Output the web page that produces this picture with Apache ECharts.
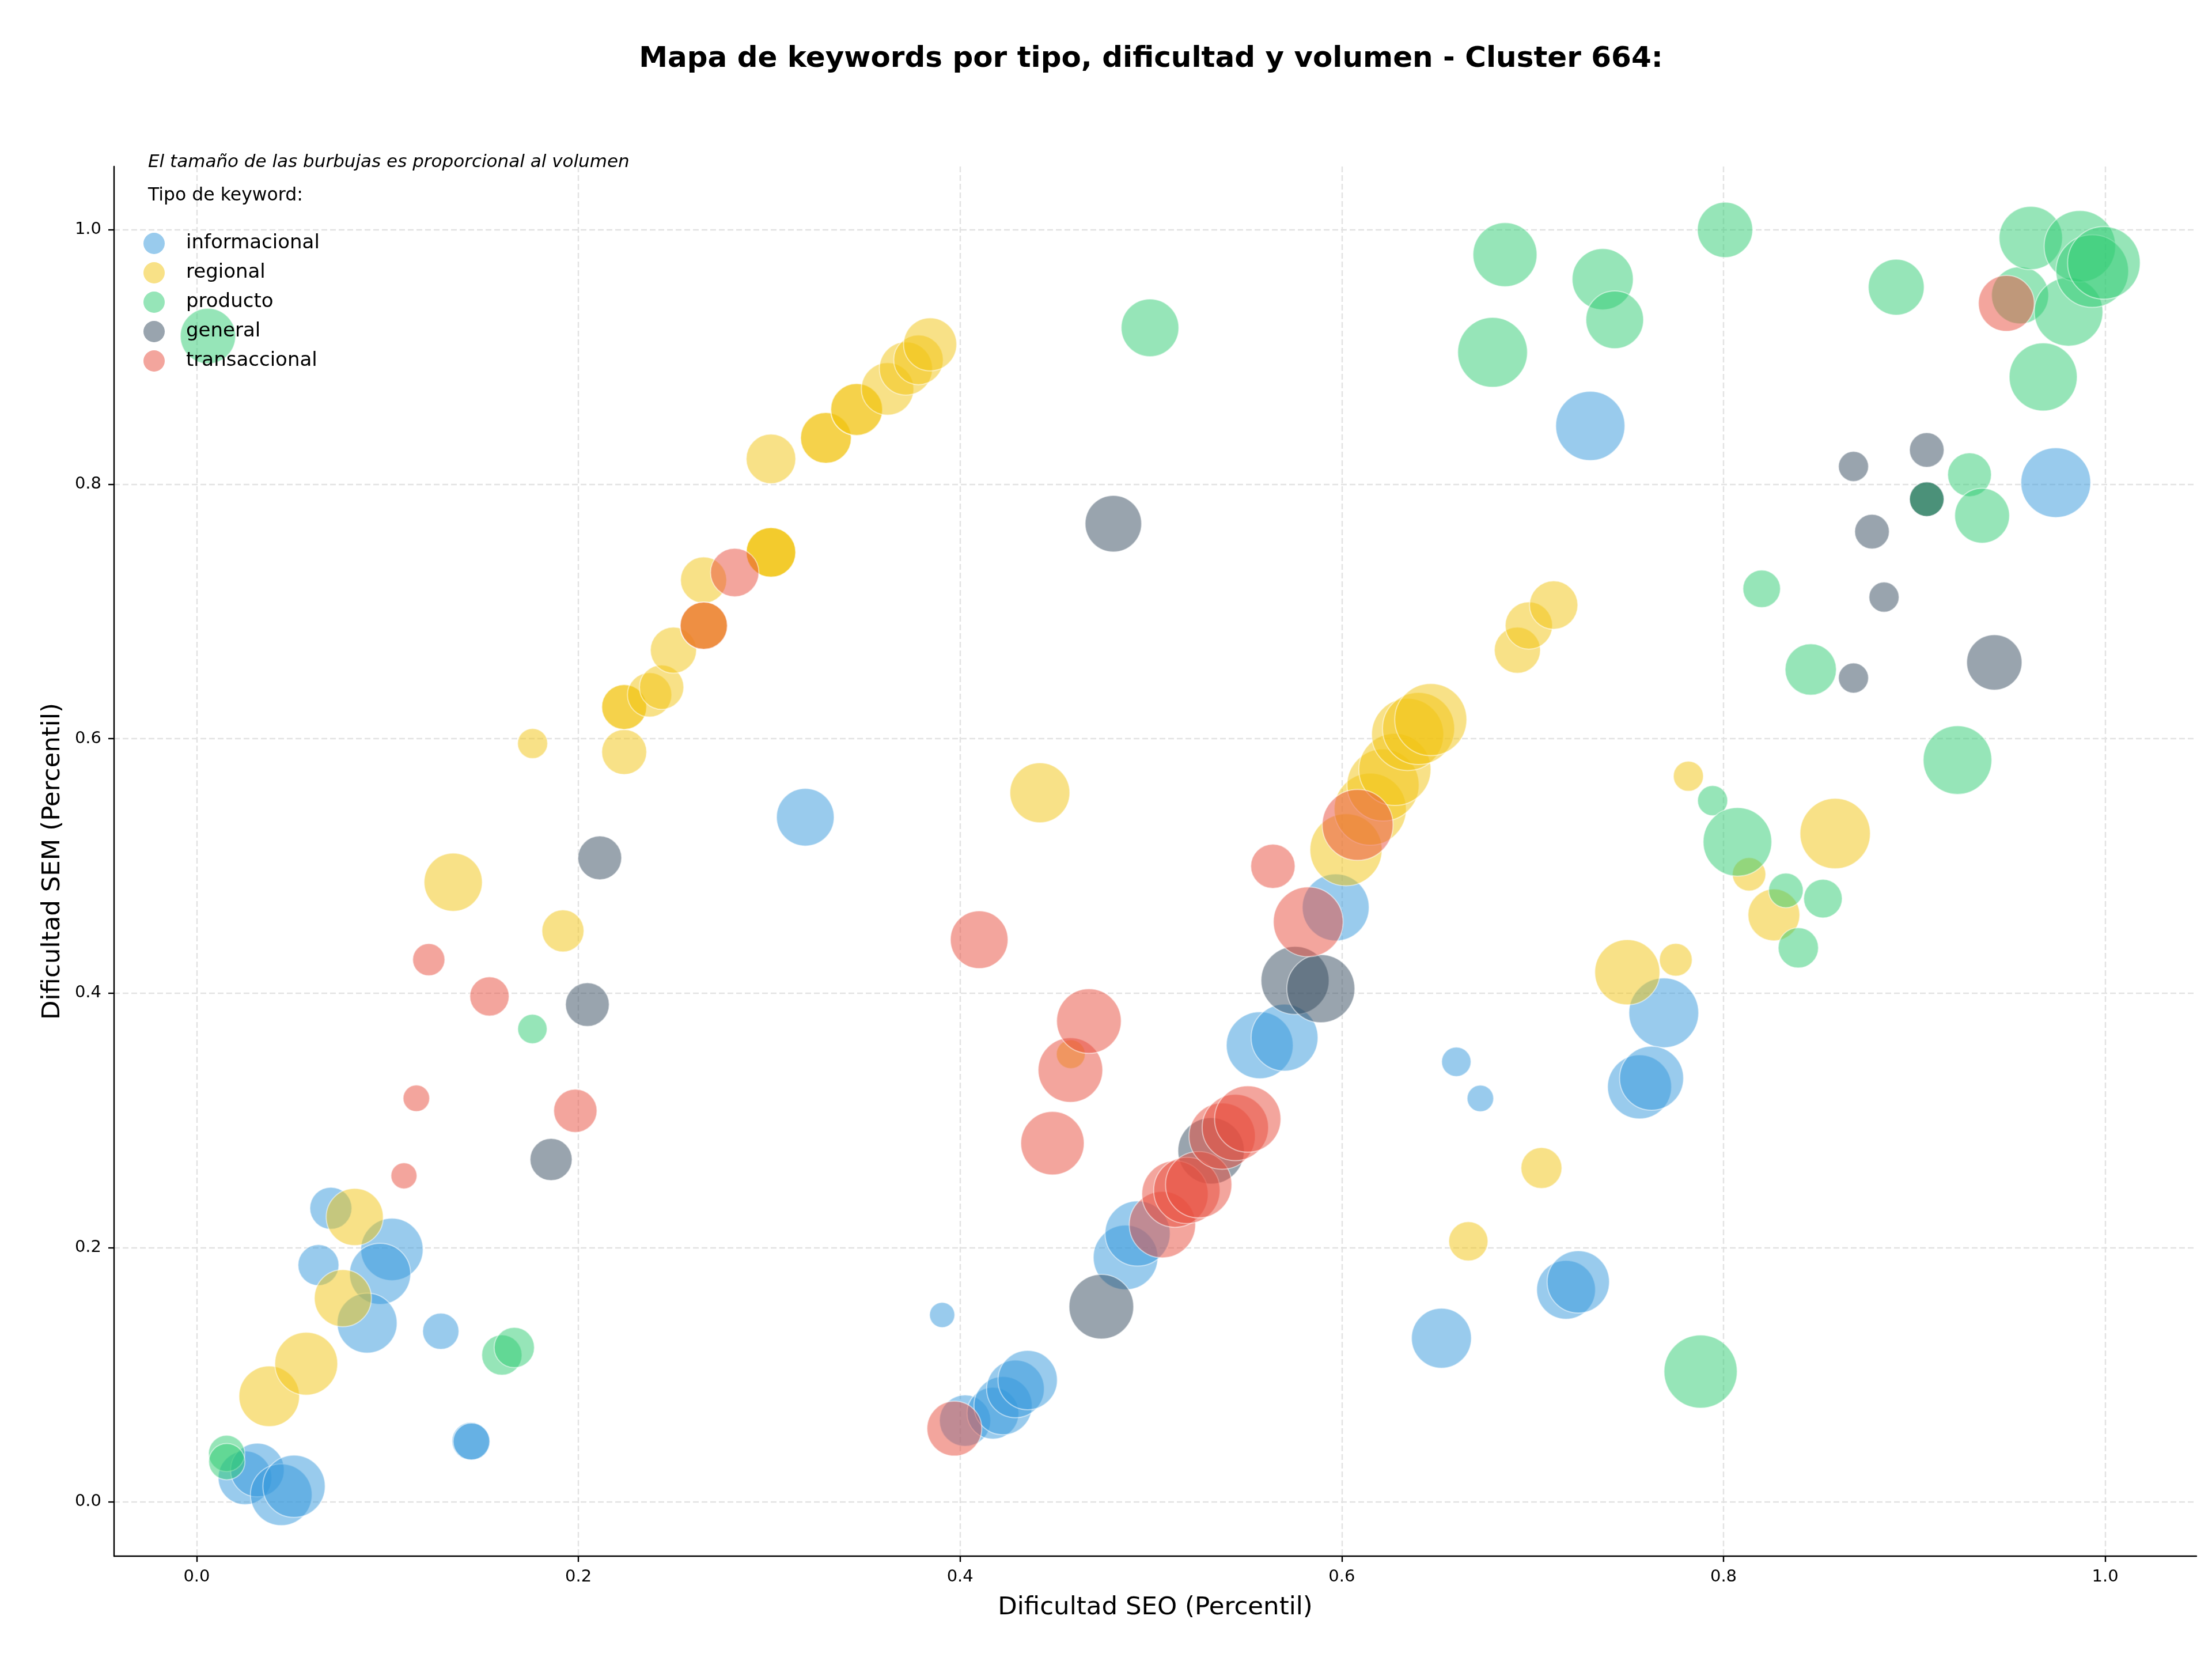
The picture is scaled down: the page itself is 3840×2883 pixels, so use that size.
<!DOCTYPE html>
<html>
<head>
<meta charset="utf-8">
<script src="https://cdn.jsdelivr.net/npm/echarts@6/dist/echarts.min.js"></script>
<style>
  html, body { margin: 0; padding: 0; background: #fff; }
  #chart { width: 3840px; height: 2883px; }
</style>
</head>
<body>
<div id="chart"></div>
<script>
// [dificultad SEO, dificultad SEM, volumen]
var informacional = [
  [0.0253, 0.019, 2160], [0.0318, 0.0251, 2160], [0.0443, 0.0057, 2860], [0.051, 0.0123, 2920],
  [0.0703, 0.2309, 1330], [0.1023, 0.1985, 2920], [0.0638, 0.1862, 1260], [0.0961, 0.1793, 2810],
  [0.0893, 0.1406, 2700], [0.1279, 0.1342, 990], [0.1436, 0.0478, 1060], [0.144, 0.0475, 1020],
  [0.3189, 0.5383, 2500], [0.3906, 0.147, 480], [0.4026, 0.0639, 1980], [0.4172, 0.0698, 2020],
  [0.4225, 0.0757, 2550], [0.429, 0.0889, 2500], [0.4354, 0.0958, 2650], [0.4867, 0.1922, 3140],
  [0.493, 0.211, 3190], [0.557, 0.359, 3360], [0.570, 0.365, 3360], [0.5968, 0.4674, 3360],
  [0.6522, 0.1287, 2700], [0.660, 0.346, 650], [0.6726, 0.3172, 530], [0.7175, 0.1668, 2600],
  [0.7239, 0.173, 2920], [0.7302, 0.8459, 3600], [0.7687, 0.3845, 3660], [0.756, 0.3263, 3080],
  [0.7623, 0.3331, 3080], [0.9741, 0.8013, 3660]
];
var regional = [
  [0.038, 0.0831, 2760], [0.0574, 0.1087, 2970], [0.0766, 0.1602, 2450], [0.0828, 0.224, 2450],
  [0.1344, 0.4872, 2550], [0.1919, 0.4489, 1330], [0.176, 0.5962, 680], [0.224, 0.5895, 1520],
  [0.224, 0.6249, 1520], [0.224, 0.6249, 1520], [0.2373, 0.6345, 1480], [0.2436, 0.6405, 1480],
  [0.2498, 0.6696, 1600], [0.2656, 0.7247, 1600], [0.2657, 0.6888, 1680], [0.2657, 0.6888, 1680],
  [0.3009, 0.820, 1850], [0.3009, 0.7465, 1850], [0.3009, 0.7465, 1850], [0.3009, 0.7465, 1850],
  [0.3297, 0.8365, 1940], [0.3297, 0.8365, 1940], [0.3458, 0.8588, 2020], [0.3458, 0.8588, 2020],
  [0.362, 0.875, 2070], [0.3716, 0.891, 2120], [0.3782, 0.8978, 1850], [0.3843, 0.910, 2120],
  [0.4418, 0.5575, 2700], [0.458, 0.352, 625], [0.6022, 0.5127, 3910], [0.6149, 0.5446, 3910],
  [0.6216, 0.5636, 3910], [0.6278, 0.5758, 3910], [0.6345, 0.6033, 3910], [0.6402, 0.608, 3910],
  [0.6466, 0.615, 3910], [0.6663, 0.2049, 1160], [0.692, 0.6696, 1600], [0.698, 0.689, 1680],
  [0.711, 0.705, 1760], [0.7046, 0.2625, 1260], [0.7496, 0.4164, 3190], [0.775, 0.4262, 810],
  [0.7816, 0.5705, 680], [0.8134, 0.4934, 840], [0.8264, 0.4615, 2020], [0.8585, 0.5254, 3720]
];
var producto = [
  [0.0157, 0.0381, 990], [0.0158, 0.0317, 990], [0.0059, 0.9165, 2300], [0.1599, 0.1155, 1220],
  [0.1664, 0.1214, 1220], [0.1759, 0.3718, 650], [0.4995, 0.923, 2500], [0.679, 0.9037, 3660],
  [0.6855, 0.9805, 3080], [0.7367, 0.9612, 2810], [0.743, 0.9293, 2500], [0.788, 0.1025, 4030],
  [0.7943, 0.5513, 680], [0.8008, 1.0, 2300], [0.8073, 0.5189, 3540], [0.82, 0.7178, 1060],
  [0.8327, 0.4807, 900], [0.8392, 0.4356, 1220], [0.8457, 0.6544, 1980], [0.8521, 0.4743, 1120],
  [0.8905, 0.9549, 2350], [0.9065, 0.7883, 900], [0.9065, 0.7883, 900], [0.9226, 0.5832, 3540],
  [0.9289, 0.8075, 1440], [0.9355, 0.7753, 2260], [0.9554, 0.9486, 2450], [0.961, 0.9936, 3020],
  [0.9675, 0.8844, 3480], [0.9808, 0.9356, 3540], [0.9867, 0.9871, 3840], [0.9932, 0.9676, 3970],
  [0.9993, 0.9741, 3970]
];
var general = [
  [0.1857, 0.2692, 1330], [0.2047, 0.391, 1440], [0.2112, 0.5063, 1440], [0.474, 0.1535, 3140],
  [0.4803, 0.769, 2400], [0.5315, 0.276, 3310], [0.5755, 0.410, 3480], [0.589, 0.4035, 3480],
  [0.8681, 0.814, 680], [0.8681, 0.6477, 680], [0.8778, 0.7628, 900], [0.8841, 0.7113, 680],
  [0.9065, 0.827, 900], [0.9065, 0.7883, 900], [0.9419, 0.660, 2300]
];
var transaccional = [
  [0.1086, 0.2564, 510], [0.1151, 0.3173, 530], [0.1216, 0.4263, 780], [0.1534, 0.3974, 1160],
  [0.1984, 0.3075, 1410], [0.2657, 0.6888, 1680], [0.2819, 0.7306, 1760], [0.397, 0.0577, 2260],
  [0.410, 0.442, 2500], [0.4484, 0.282, 3020], [0.4578, 0.3395, 3140], [0.4675, 0.378, 3140],
  [0.506, 0.218, 3310], [0.5126, 0.242, 3310], [0.5188, 0.2449, 3310], [0.525, 0.2494, 3310],
  [0.5373, 0.2876, 3310], [0.5442, 0.2944, 3310], [0.5507, 0.301, 3310], [0.5639, 0.4997, 1480],
  [0.5824, 0.456, 3660], [0.6083, 0.5322, 3780], [0.9482, 0.9422, 2350]
];

var tipos = ['informacional', 'regional', 'producto', 'general', 'transaccional'];
var colores = ['#3498db', '#f1c40f', '#2ecc71', '#34495e', '#e74c3c'];
var datos = [informacional, regional, producto, general, transaccional];
var ticks = [0, 0.2, 0.4, 0.6, 0.8, 1.0];

var FONT = '"DejaVu Sans", sans-serif';

var chart = echarts.init(document.getElementById('chart'), null, { renderer: 'canvas' });

var series = tipos.map(function (tipo, i) {
  return {
    name: tipo,
    type: 'scatter',
    data: datos[i],
    symbol: 'circle',
    symbolSize: function (d) { return 2 * Math.sqrt(d[2]); },
    itemStyle: { color: colores[i], opacity: 0.5, borderColor: '#ffffff', borderWidth: 2 },
    emphasis: { disabled: true },
    silent: true
  };
});

function axisBase(min, max) {
  return {
    type: 'value',
    min: min,
    max: max,
    axisLine: { show: true, onZero: false, lineStyle: { color: '#000', width: 2.4 } },
    axisTick: { show: true, length: 10, customValues: ticks, lineStyle: { color: '#000', width: 2.4 } },
    axisLabel: {
      customValues: ticks,
      formatter: function (v) { return v.toFixed(1); },
      fontSize: 29, color: '#000', fontFamily: FONT, margin: 22
    },
    splitLine: { show: true, lineStyle: { type: [10, 5], color: '#e2e2e2', width: 2.4 } },
    nameLocation: 'middle',
    nameTextStyle: { fontSize: 43.5, color: '#000', fontFamily: FONT }
  };
}

var xAxis = axisBase(-0.0433, 1.0478);
xAxis.name = 'Dificultad SEO (Percentil)';
xAxis.nameGap = 68;
var yAxis = axisBase(-0.0426, 1.0498);
yAxis.name = 'Dificultad SEM (Percentil)';
yAxis.nameGap = 84;

chart.setOption({
  animation: false,
  backgroundColor: '#fff',
  grid: { left: 198, top: 289, right: 27, bottom: 182, containLabel: false },
  xAxis: xAxis,
  yAxis: yAxis,
  legend: {
    data: tipos,
    orient: 'vertical',
    left: 244,
    top: 399,
    icon: 'circle',
    itemWidth: 37,
    itemHeight: 37,
    itemGap: 14,
    itemStyle: { opacity: 0.5, borderWidth: 0 },
    textStyle: { fontSize: 34, color: '#000', fontFamily: FONT, padding: [0, 0, 0, 32] },
    selectedMode: false
  },
  graphic: [
    {
      type: 'text', x: 1998, y: 103,
      style: {
        text: 'Mapa de keywords por tipo, dificultad y volumen - Cluster 664:',
        fontSize: 50, fontWeight: 'bold', fontFamily: FONT, fill: '#000',
        align: 'center', verticalAlign: 'middle'
      }
    },
    {
      type: 'text', x: 257, y: 282, z: 100,
      style: {
        text: 'El tamaño de las burbujas es proporcional al volumen',
        fontSize: 31, fontStyle: 'italic', fontFamily: FONT, fill: '#000',
        align: 'left', verticalAlign: 'middle'
      }
    },
    {
      type: 'text', x: 257, y: 340, z: 100,
      style: {
        text: 'Tipo de keyword:',
        fontSize: 31.5, fontFamily: FONT, fill: '#000',
        align: 'left', verticalAlign: 'middle'
      }
    }
  ],
  series: series
});
</script>
</body>
</html>
